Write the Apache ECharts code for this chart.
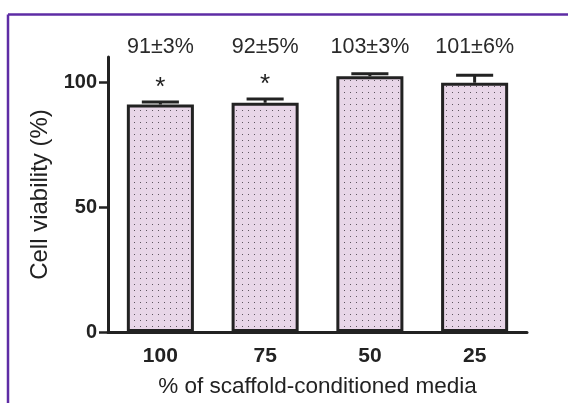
<!DOCTYPE html>
<html><head><meta charset="utf-8">
<script src="https://cdn.jsdelivr.net/npm/echarts@6/dist/echarts.min.js"></script>
<style>html,body{margin:0;padding:0;background:#fff}#c{width:568px;height:403px}</style>
</head><body><div id="c"></div>
<script>
const categories = ['100', '75', '50', '25'];
const means = [91, 91.7, 102.3, 99.7];
const errors = [1.0, 1.5, 1.0, 3.0];
const valueLabels = ['91±3%', '92±5%', '103±3%', '101±6%'];
const significance = ['*', '*', '', ''];
const yTicks = [0, 50, 100];

const FONT = '"Liberation Sans", Arial, sans-serif';
const INK = '#222';

const pat = document.createElement('canvas');
pat.width = 6; pat.height = 6;
const pctx = pat.getContext('2d');
pctx.fillStyle = '#e8d6e8'; pctx.fillRect(0, 0, 6, 6);
pctx.fillStyle = '#5e5560'; pctx.fillRect(2, 2, 1, 1);

const errData = categories.map((c, i) => [i, means[i] + errors[i], means[i]]);

const chart = echarts.init(document.getElementById('c'), null, {renderer: 'canvas'});
chart.setOption({
  backgroundColor: '#ffffff',
  animation: false,
  grid: {left: 108, right: 41, top: 57, bottom: 69, containLabel: false},
  graphic: [
    {type: 'line', shape: {x1: 8, y1: 14.5, x2: 568, y2: 14.5}, style: {stroke: '#5e2ca5', lineWidth: 2.5}},
    {type: 'line', shape: {x1: 8, y1: 14.5, x2: 8, y2: 403}, style: {stroke: '#5e2ca5', lineWidth: 2.5}}
  ],
  xAxis: {
    type: 'category',
    data: categories,
    name: '% of scaffold-conditioned media',
    nameLocation: 'middle',
    nameGap: 43,
    nameTextStyle: {fontSize: 22.5, color: INK, fontFamily: FONT},
    axisLine: {lineStyle: {color: INK, width: 3}},
    axisTick: {alignWithLabel: true, length: 9, lineStyle: {color: INK, width: 2.5}},
    axisLabel: {fontSize: 21, fontWeight: 'bold', color: INK, fontFamily: FONT, margin: 14}
  },
  yAxis: {
    type: 'value',
    min: 0, max: 110,
    name: 'Cell viability (%)',
    nameLocation: 'middle',
    nameGap: 54,
    nameTextStyle: {fontSize: 24, color: INK, fontFamily: FONT},
    axisLine: {show: true, lineStyle: {color: INK, width: 3}},
    axisTick: {show: true, length: 9, customValues: yTicks, lineStyle: {color: INK, width: 2.5}},
    axisLabel: {customValues: yTicks, fontSize: 20, fontWeight: 'bold', color: INK, fontFamily: FONT, margin: 11},
    splitLine: {show: false}
  },
  series: [
    {
      type: 'bar',
      data: means,
      barWidth: '64%',
      itemStyle: {color: {image: pat, repeat: 'repeat'}, borderColor: INK, borderWidth: 3}
    },
    {
      type: 'custom',
      clip: false,
      z: 5,
      data: errData,
      renderItem: function (params, api) {
        const i = api.value(0);
        const top = api.coord([i, api.value(1)]);
        const base = api.coord([i, api.value(2)]);
        const band = api.size([1, 0])[0];
        const capHalf = band * 0.177;
        const labelY = api.coord([i, 110])[1] - 10;
        const children = [
          {type: 'line', shape: {x1: top[0], y1: base[1], x2: top[0], y2: top[1]}, style: {stroke: INK, lineWidth: 3}},
          {type: 'line', shape: {x1: top[0] - capHalf, y1: top[1], x2: top[0] + capHalf, y2: top[1]}, style: {stroke: INK, lineWidth: 3}},
          {type: 'text', style: {text: valueLabels[i], x: top[0], y: labelY, align: 'center', verticalAlign: 'middle', fontSize: 21.5, fontFamily: FONT, fill: '#2a2a2a'}}
        ];
        if (significance[i]) {
          children.push({type: 'text', style: {text: significance[i], x: top[0], y: top[1] - 14, align: 'center', verticalAlign: 'middle', fontSize: 26, fontFamily: FONT, fill: INK}});
        }
        return {type: 'group', children: children};
      }
    }
  ]
});
</script>
</body></html>
